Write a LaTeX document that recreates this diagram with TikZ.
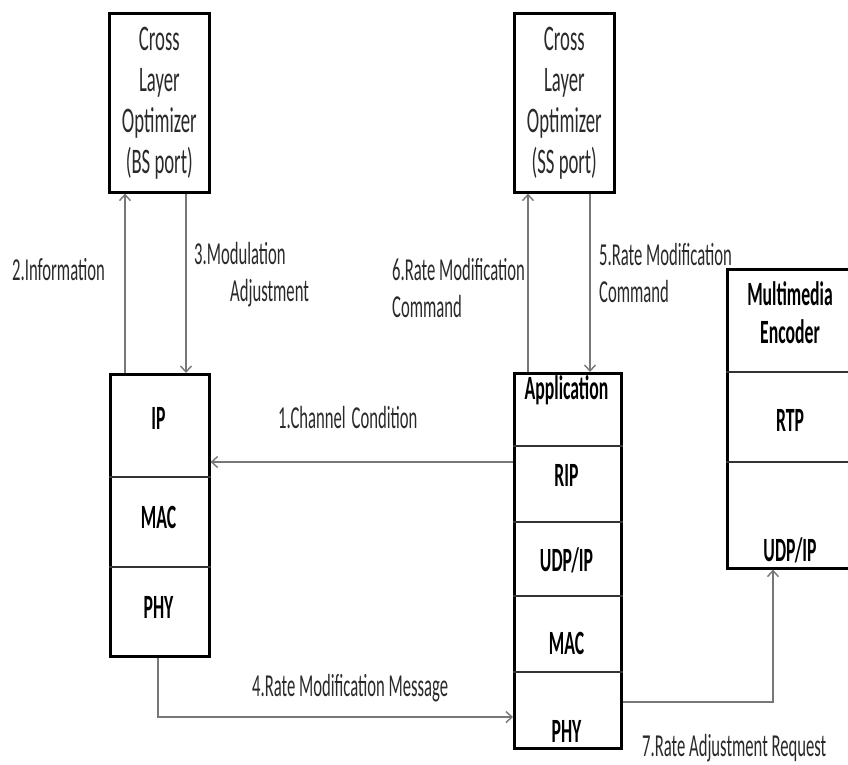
\documentclass[tikz,border=0pt]{standalone}
\usepackage{fontspec}
\setmainfont{Carlito}[FakeStretch=0.52]
\usetikzlibrary{arrows.meta}
\definecolor{conncol}{HTML}{777777}
\definecolor{txtcol}{HTML}{2A2A2A}
\tikzset{
  box/.style={draw=black, line width=2.6pt, rectangle, inner sep=0pt, anchor=north west},
  divider/.style={draw=black!80, line width=1.4pt},
  conn/.style={draw=conncol, line width=1.6pt, -{Straight Barb[length=6pt,width=11pt,line width=1.4pt]}},
  topbox/.style={font=\fontsize{36}{41}\selectfont, text=txtcol, align=center},
  lbl/.style={font=\fontsize{32}{37}\selectfont, text=txtcol, inner sep=0pt},
  layer/.style={font=\bfseries\fontsize{34}{40}\selectfont, text=black, inner sep=0pt}
}
\begin{document}
\begin{tikzpicture}[x=1pt,y=-1pt]
\useasboundingbox[fill=white] (0,0) rectangle (848,764);
% top boxes
\node[box, minimum width=100pt, minimum height=179pt] (bs) at (108,12) {};
\node[topbox] (bst) at (bs.center) {Cross\\Layer\\Optimizer\\(BS port)};
\node[box, minimum width=100pt, minimum height=179pt] (ss) at (513,12) {};
\node[topbox] (sst) at (ss.center) {Cross\\Layer\\Optimizer\\(SS port)};
% left stack
\node[box, minimum width=99pt, minimum height=282pt] (L) at (109,373) {};
\coordinate (ld1) at (109,477);
\coordinate (ld2) at (109,567);
\draw[divider] (ld1) -- (ld1 -| L.east);
\draw[divider] (ld2) -- (ld2 -| L.east);
\node[layer] (lip) at (158.5,418) {IP};
\node[layer] (lmac) at (158.5,517) {MAC};
\node[layer] (lphy) at (158.5,607) {PHY};
% right stack
\node[box, minimum width=107pt, minimum height=375pt] (R) at (513,372) {};
\foreach \yy/\nm in {446/rd1,522/rd2,596/rd3,672/rd4}{
  \coordinate (\nm) at (513,\yy);
  \draw[divider] (\nm) -- (\nm -| R.east);
}
\node[layer] (rapp) at (566.5,390) {Application};
\node[layer] (rrip) at (566.5,475) {RIP};
\node[layer] (rudp) at (566.5,560) {UDP/IP};
\node[layer] (rmac) at (566.5,643) {MAC};
\node[layer] (rphy) at (566.5,731) {PHY};
% encoder
\node[box, minimum width=130pt, minimum height=299pt] (E) at (726,268) {};
\coordinate (ed1) at (726,372);
\coordinate (ed2) at (726,462);
\draw[divider] (ed1) -- (ed1 -| E.east);
\draw[divider] (ed2) -- (ed2 -| E.east);
\node[layer, align=center] (eme) at (790,313) {Multimedia\\[-2pt]Encoder};
\node[layer] (ertp) at (790,420) {RTP};
\node[layer] (eudp) at (790,550) {UDP/IP};
% connectors
\coordinate (c1) at (0,462);
\draw[conn] (R.west |- c1) -- (L.east |- c1);
\coordinate (c2) at (125,0);
\draw[conn] (L.north -| c2) -- (bs.south -| c2);
\coordinate (c3) at (186,0);
\draw[conn] (bs.south -| c3) -- (L.north -| c3);
\coordinate (c4) at (158,717);
\draw[conn] (L.south -| c4) -- (c4) -- (R.west |- c4);
\coordinate (c5) at (590,0);
\draw[conn] (ss.south -| c5) -- (R.north -| c5);
\coordinate (c6) at (528,0);
\draw[conn] (R.north -| c6) -- (ss.south -| c6);
\coordinate (c7) at (773,702);
\draw[conn] (R.east |- c7) -- (c7) -- (E.south -| c7);
% labels
\node[lbl, anchor=west] (t1) at (278,418) {1.Channel\hspace{6pt}Condition};
\node[lbl, anchor=west] (t2) at (12,270) {2.Information};
\node[lbl, anchor=west, align=left] (t3) at (194,275) {3.Modulation\\\hspace*{36pt}Adjustment};
\node[lbl, anchor=west] (t4) at (252,688) {4.Rate Modification Message};
\node[lbl, anchor=west, align=left] (t5) at (599,273) {5.Rate Modification\\Command};
\node[lbl, anchor=west, align=left] (t6) at (392,288) {6.Rate Modification\\Command};
\node[lbl, anchor=west] (t7) at (642,748) {7.Rate Adjustment Request};
\end{tikzpicture}
\end{document}
